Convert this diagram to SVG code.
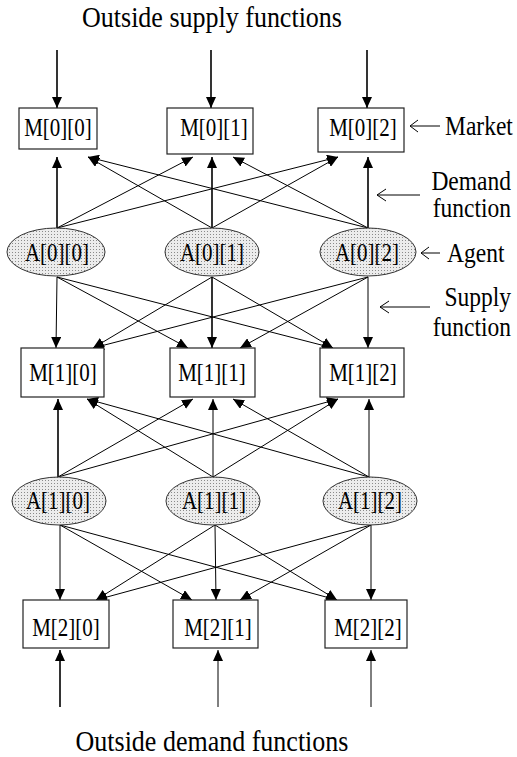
<svg xmlns="http://www.w3.org/2000/svg" width="517" height="757" viewBox="0 0 517 757">
<style>
.box{fill:#fff;stroke:#222;stroke-width:1.2}
.ag{fill:url(#dots);stroke:#333;stroke-width:1}
.lbl{font-family:"Liberation Serif","Times New Roman",serif;font-size:21px;fill:#000;text-anchor:middle}
.ttl{font-family:"Liberation Serif","Times New Roman",serif;font-size:26px;fill:#000;text-anchor:middle}
.side{font-family:"Liberation Serif","Times New Roman",serif;font-size:23.5px;fill:#000}
.c line{stroke:#000;stroke-width:1;marker-end:url(#ah)}
.c line.v{stroke-width:1.6}
.ann{fill:none;stroke:#000;stroke-width:1}
</style>
<defs>
<marker id="ah" markerUnits="userSpaceOnUse" markerWidth="11" markerHeight="10" refX="11" refY="5" orient="auto">
<path d="M0,0 L11,5 L0,10 z" fill="#000"/>
</marker>
<pattern id="dots" width="3" height="3" patternUnits="userSpaceOnUse">
<rect width="3" height="3" fill="#ececec"/>
<rect width="1" height="1" fill="#8a8a8a"/>
</pattern>
</defs>

<text class="ttl" transform="translate(212,27) scale(1,1.1)">Outside supply functions</text>
<text class="ttl" transform="translate(212,751) scale(1,1.1)">Outside demand functions</text>

<g id="connectors" class="c">
<line class="v" x1="57" y1="50" x2="57" y2="108"/>
<line class="v" x1="211" y1="50" x2="211" y2="108"/>
<line class="v" x1="367" y1="50" x2="367" y2="108"/>
<line class="v" x1="57" y1="228" x2="57" y2="157"/>
<line x1="57" y1="228" x2="193" y2="157"/>
<line x1="57" y1="228" x2="338" y2="157"/>
<line x1="212" y1="228" x2="88" y2="157"/>
<line class="v" x1="212" y1="228" x2="212" y2="157"/>
<line x1="212" y1="228" x2="338" y2="157"/>
<line x1="368" y1="228" x2="88" y2="157"/>
<line x1="368" y1="228" x2="233" y2="157"/>
<line class="v" x1="368" y1="228" x2="368" y2="157"/>
<line x1="57" y1="277" x2="56" y2="348"/>
<line x1="57" y1="277" x2="188" y2="348"/>
<line x1="57" y1="277" x2="333" y2="348"/>
<line x1="212" y1="277" x2="93" y2="348"/>
<line class="v" x1="212" y1="277" x2="212" y2="348"/>
<line x1="212" y1="277" x2="333" y2="348"/>
<line x1="368" y1="277" x2="93" y2="348"/>
<line x1="368" y1="277" x2="240" y2="348"/>
<line x1="368" y1="277" x2="368" y2="348"/>
<line class="v" x1="58" y1="477" x2="58" y2="399"/>
<line x1="58" y1="477" x2="193" y2="399"/>
<line x1="58" y1="477" x2="338" y2="399"/>
<line x1="213" y1="477" x2="87" y2="399"/>
<line x1="213" y1="477" x2="213" y2="399"/>
<line x1="213" y1="477" x2="338" y2="399"/>
<line x1="369" y1="477" x2="87" y2="399"/>
<line x1="369" y1="477" x2="233" y2="399"/>
<line x1="369" y1="477" x2="369" y2="399"/>
<line x1="60" y1="525" x2="60" y2="600"/>
<line x1="60" y1="525" x2="192" y2="600"/>
<line x1="60" y1="525" x2="337" y2="600"/>
<line x1="215" y1="525" x2="96" y2="600"/>
<line x1="215" y1="525" x2="216" y2="600"/>
<line x1="215" y1="525" x2="337" y2="600"/>
<line x1="371" y1="525" x2="96" y2="600"/>
<line x1="371" y1="525" x2="240" y2="600"/>
<line x1="371" y1="525" x2="371" y2="600"/>
<line class="v" x1="60" y1="707" x2="60" y2="650"/>
<line x1="218" y1="707" x2="218" y2="650"/>
<line x1="371" y1="707" x2="371" y2="650"/>
</g>

<g id="M00"><rect class="box" x="19" y="108" width="78" height="41"/><text class="lbl" transform="translate(58,136) scale(1,1.2)">M[0][0]</text></g>
<g id="M01"><rect class="box" x="167" y="108" width="86" height="46"/><text class="lbl" transform="translate(214,136) scale(1,1.2)">M[0][1]</text></g>
<g id="M02"><rect class="box" x="318" y="108" width="86" height="44"/><text class="lbl" transform="translate(363,136) scale(1,1.2)">M[0][2]</text></g>

<g id="A00"><ellipse class="ag" cx="56" cy="252" rx="49" ry="24"/><text class="lbl" transform="translate(57,261) scale(1,1.2)">A[0][0]</text></g>
<g id="A01"><ellipse class="ag" cx="212" cy="252" rx="47" ry="24"/><text class="lbl" transform="translate(212,261) scale(1,1.2)">A[0][1]</text></g>
<g id="A02"><ellipse class="ag" cx="368" cy="252" rx="48" ry="24"/><text class="lbl" transform="translate(367,261) scale(1,1.2)">A[0][2]</text></g>

<g id="M10"><rect class="box" x="21" y="348" width="83" height="49"/><text class="lbl" transform="translate(63,381) scale(1,1.2)">M[1][0]</text></g>
<g id="M11"><rect class="box" x="170" y="348" width="85" height="49"/><text class="lbl" transform="translate(212,381) scale(1,1.2)">M[1][1]</text></g>
<g id="M12"><rect class="box" x="320" y="348" width="84" height="49"/><text class="lbl" transform="translate(363,381) scale(1,1.2)">M[1][2]</text></g>

<g id="A10"><ellipse class="ag" cx="59" cy="501" rx="47" ry="24"/><text class="lbl" transform="translate(58,509) scale(1,1.2)">A[1][0]</text></g>
<g id="A11"><ellipse class="ag" cx="213" cy="501" rx="47" ry="24"/><text class="lbl" transform="translate(214,509) scale(1,1.2)">A[1][1]</text></g>
<g id="A12"><ellipse class="ag" cx="370" cy="501" rx="47" ry="24"/><text class="lbl" transform="translate(370,509) scale(1,1.2)">A[1][2]</text></g>

<g id="M20"><rect class="box" x="23" y="600" width="86" height="48"/><text class="lbl" transform="translate(66,636) scale(1,1.2)">M[2][0]</text></g>
<g id="M21"><rect class="box" x="173" y="600" width="85" height="48"/><text class="lbl" transform="translate(218,636) scale(1,1.2)">M[2][1]</text></g>
<g id="M22"><rect class="box" x="325" y="600" width="82" height="48"/><text class="lbl" transform="translate(368,636) scale(1,1.2)">M[2][2]</text></g>

<g id="annotations">
<path class="ann" d="M440,126 H410 M418,120 L410,126 L418,132"/>
<text class="side" transform="translate(445,135) scale(1,1.15)">Market</text>
<path class="ann" d="M420,195 H377 M386,189 L377,195 L386,201"/>
<text class="side" text-anchor="end" transform="translate(511,190) scale(1,1.15)">Demand</text>
<text class="side" text-anchor="end" transform="translate(511,217) scale(1,1.15)">function</text>
<path class="ann" d="M440,253 H421 M429,247 L421,253 L429,259"/>
<text class="side" transform="translate(447,262) scale(1,1.15)">Agent</text>
<path class="ann" d="M430,307 H380 M389,301 L380,307 L389,313"/>
<text class="side" text-anchor="end" transform="translate(511,306) scale(1,1.15)">Supply</text>
<text class="side" text-anchor="end" transform="translate(511,336) scale(1,1.15)">function</text>
</g>
</svg>
